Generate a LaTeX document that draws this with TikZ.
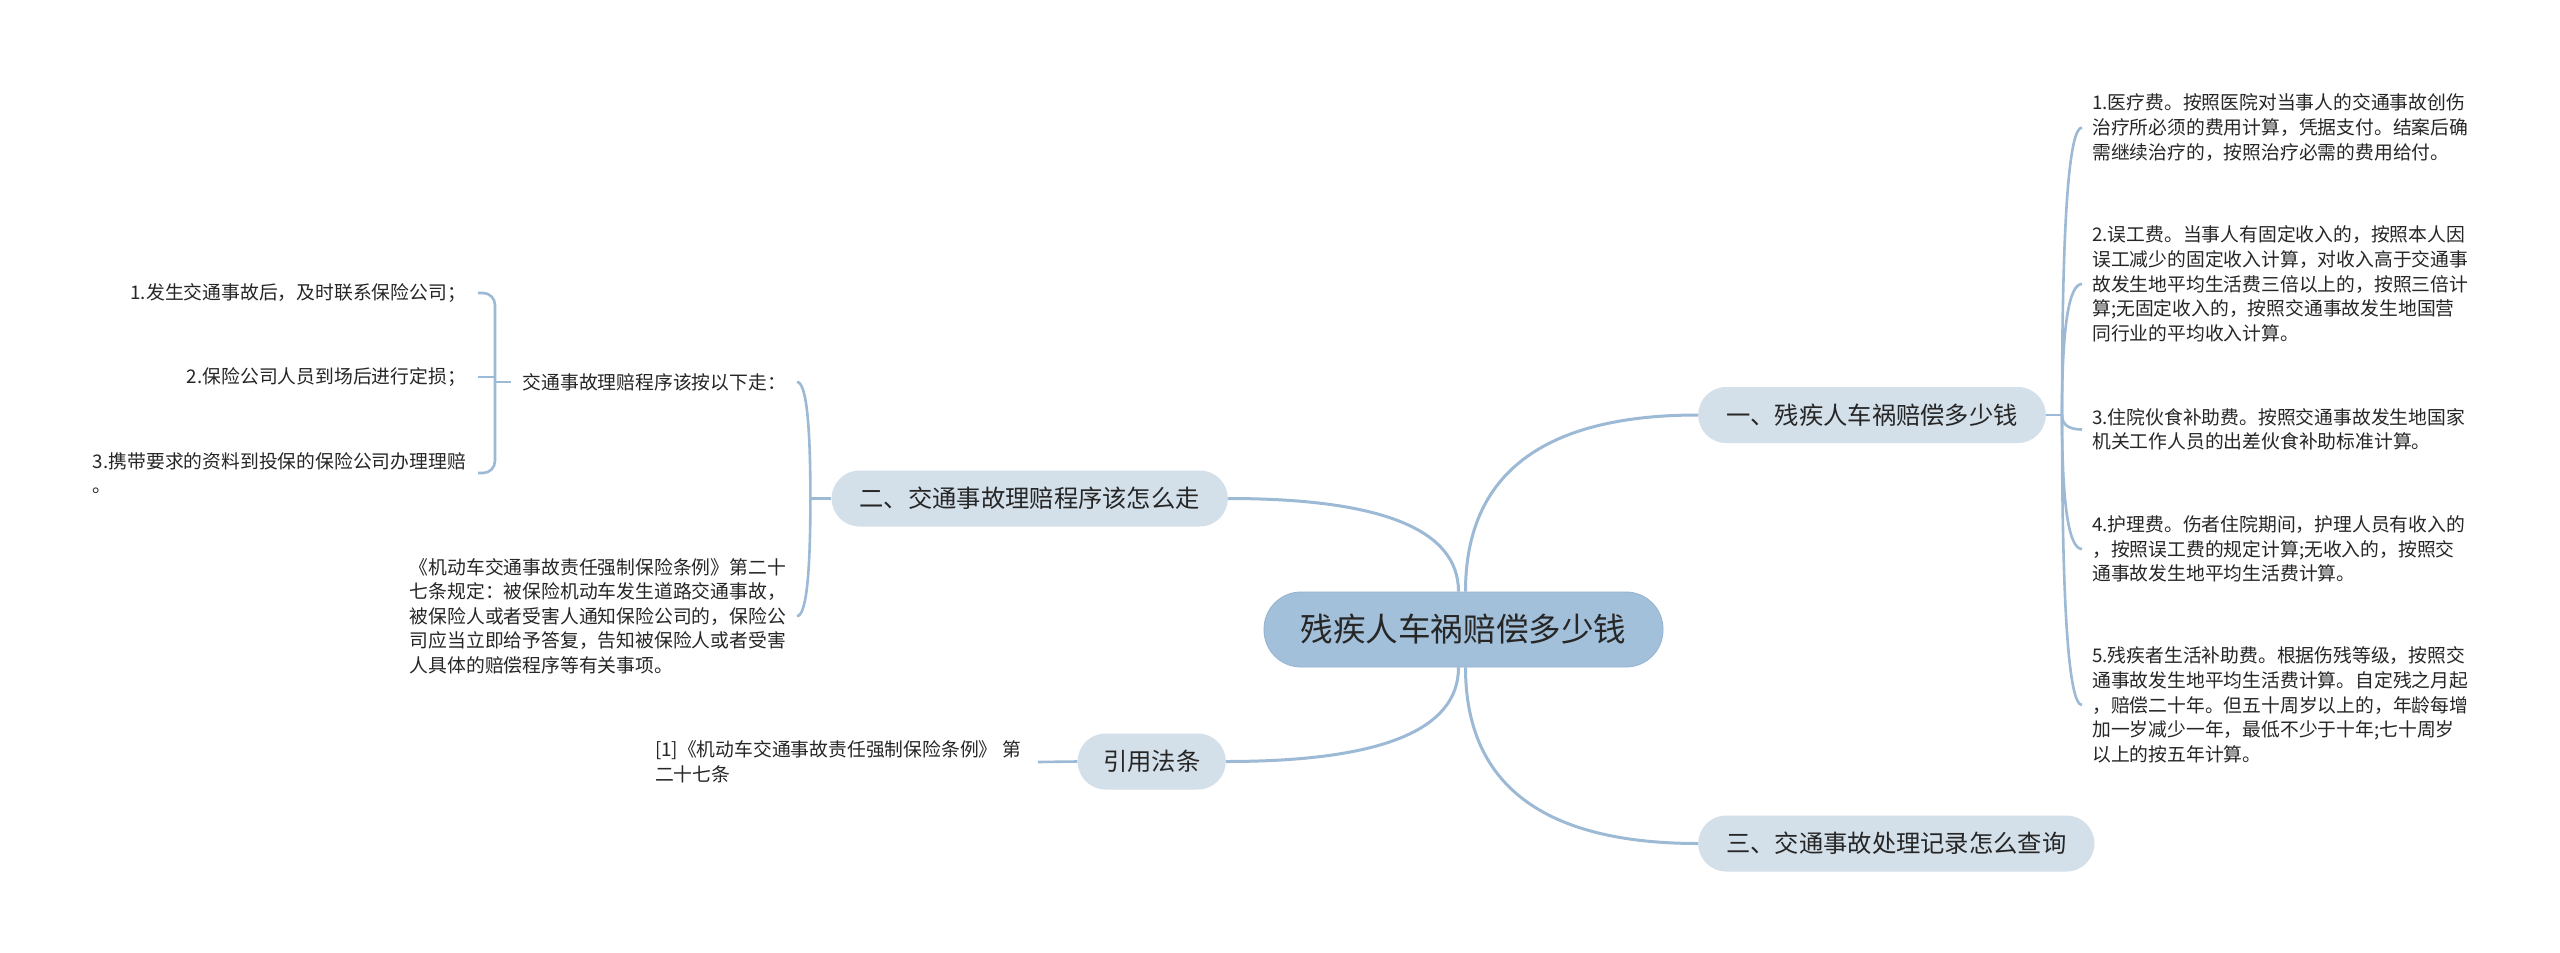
\documentclass[tikz,border=0pt]{standalone}
\usepackage{fontspec}
\newfontfamily\cjk{Noto Sans CJK SC}
\usetikzlibrary{calc}
\definecolor{linec}{RGB}{156,185,213}
\definecolor{rootc}{RGB}{163,192,218}
\definecolor{rootb}{RGB}{148,178,207}
\definecolor{mainc}{RGB}{211,223,233}
\definecolor{txt}{RGB}{38,38,38}
\newcommand\qconn[4]{\coordinate (#4) at (#2 |- #3);
  \draw[#1] (#2) .. controls ($(#2)!0.6667!(#4)$) and ($(#3)!0.6667!(#4)$) .. (#3);}
\begin{document}
\begin{tikzpicture}[x=1pt,y=-1pt,
  conn/.style={draw=linec,line width=3pt},
  sconn/.style={draw=linec,line width=2.6pt},
  rootnode/.style={fill=rootc,draw=rootb,line width=0.8pt,rounded corners=37pt,minimum height=75pt,inner xsep=36.5pt,inner ysep=0pt,font=\cjk\fontsize{32.6pt}{38pt}\selectfont,text=txt},
  mainnode/.style={fill=mainc,rounded corners=28pt,minimum height=56pt,inner xsep=28pt,inner ysep=0pt,font=\cjk\fontsize{24.3pt}{28pt}\selectfont,text=txt},
  leaf/.style={inner sep=0pt,align=left,font=\cjk\fontsize{18.8pt}{24.6pt}\selectfont,text=txt},
  leafr/.style={leaf,align=right}]
\fill[white] (0,0) rectangle (2560,953);
\useasboundingbox (0,0) rectangle (2560,953);

% main nodes
\node[rootnode] (c) at (1463.5,629.5) {残疾人车祸赔偿多少钱};
\node[mainnode,anchor=west] (b1) at (1698,415) {一、残疾人车祸赔偿多少钱};
\node[mainnode,anchor=east] (b2) at (1228,498.5) {二、交通事故理赔程序该怎么走};
\node[mainnode,anchor=west] (b3) at (1698,843.5) {三、交通事故处理记录怎么查询};
\node[mainnode,anchor=east,inner xsep=25.5pt] (b4) at (1226,761.5) {引用法条};

% right leaves
\node[leaf,anchor=west] (r1) at (2092,127.5) {1.医疗费。按照医院对当事人的交通事故创伤\\治疗所必须的费用计算，凭据支付。结案后确\\需继续治疗的，按照治疗必需的费用给付。};
\node[leaf,anchor=west] (r2) at (2092,284) {2.误工费。当事人有固定收入的，按照本人因\\误工减少的固定收入计算，对收入高于交通事\\故发生地平均生活费三倍以上的，按照三倍计\\算;无固定收入的，按照交通事故发生地国营\\同行业的平均收入计算。};
\node[leaf,anchor=west] (r3) at (2092,429.5) {3.住院伙食补助费。按照交通事故发生地国家\\机关工作人员的出差伙食补助标准计算。};
\node[leaf,anchor=west] (r4) at (2092,549) {4.护理费。伤者住院期间，护理人员有收入的\\，按照误工费的规定计算;无收入的，按照交\\通事故发生地平均生活费计算。};
\node[leaf,anchor=west] (r5) at (2092,705) {5.残疾者生活补助费。根据伤残等级，按照交\\通事故发生地平均生活费计算。自定残之月起\\，赔偿二十年。但五十周岁以上的，年龄每增\\加一岁减少一年，最低不少于十年;七十周岁\\以上的按五年计算。};

% left leaves
\node[leaf,anchor=east] (p21) at (786,382) {交通事故理赔程序该按以下走：};
\node[leaf,anchor=east] (p22) at (786,616) {《机动车交通事故责任强制保险条例》第二十\\七条规定：被保险机动车发生道路交通事故，\\被保险人或者受害人通知保险公司的，保险公\\司应当立即给予答复，告知被保险人或者受害\\人具体的赔偿程序等有关事项。};
\node[leafr,anchor=east] (l1) at (466,293) {1.发生交通事故后，及时联系保险公司；};
\node[leafr,anchor=east] (l2) at (466,377) {2.保险公司人员到场后进行定损；};
\node[leaf,anchor=east] (l3) at (466,473) {3.携带要求的资料到投保的保险公司办理理赔\\。};
\node[leaf,anchor=east] (q1) at (1021,762) {[1]《机动车交通事故责任强制保险条例》 第\\二十七条};

% central connectors
\coordinate (cn1) at ([xshift=2pt]c.north);
\coordinate (cn2) at ([xshift=-5pt]c.north);
\coordinate (cs1) at ([xshift=2pt]c.south);
\coordinate (cs2) at ([xshift=-5pt]c.south);
\qconn{conn}{cn1}{b1.west}{k1}
\qconn{conn}{cn2}{b2.east}{k2}
\qconn{conn}{cs1}{b3.west}{k3}
\qconn{conn}{cs2}{b4.east}{k4}

% right bracket
\coordinate (j1) at ([xshift=16pt]b1.east);
\draw[sconn] (b1.east) -- (j1);
\coordinate (e1) at ([xshift=-10pt]r1.west);
\coordinate (e2) at ([xshift=-10pt]r2.west);
\coordinate (e3) at ([xshift=-10pt]r3.west);
\coordinate (e4) at ([xshift=-10pt]r4.west);
\coordinate (e5) at ([xshift=-10pt]r5.west);
\qconn{sconn}{j1}{e1}{m1}
\qconn{sconn}{j1}{e2}{m2}
\qconn{sconn}{j1}{e3}{m3}
\qconn{sconn}{j1}{e4}{m4}
\qconn{sconn}{j1}{e5}{m5}

% left bracket of branch 2
\coordinate (j2) at ([xshift=-21pt]b2.west);
\draw[sconn] (b2.west) -- (j2);
\coordinate (e21) at ([xshift=11pt]p21.east);
\coordinate (e22) at ([xshift=11pt]p22.east);
\qconn{sconn}{j2}{e21}{m21}
\qconn{sconn}{j2}{e22}{m22}

% small bracket
\coordinate (j21) at (495,382);
\draw[sconn] (j21) -- ([xshift=-11pt]p21.west);
\coordinate (t1) at ([xshift=12pt]l1.east);
\coordinate (t2) at ([xshift=12pt]l2.east);
\coordinate (t3) at ([xshift=12pt]l3.east);
\draw[sconn,rounded corners=12pt] (t1) -| (j21) |- (t3);
\draw[sconn] (t2) -- (t2 -| j21);

% citation
\draw[sconn] (b4.west) -- ([xshift=17pt]q1.east);
\end{tikzpicture}
\end{document}
